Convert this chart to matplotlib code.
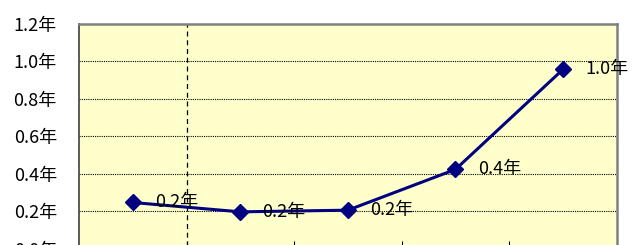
import matplotlib.pyplot as plt
import numpy as np

plt.rcParams['font.family'] = ['Noto Sans CJK JP', 'DejaVu Sans']

# data
categories = [1, 2, 3, 4, 5]
values = [0.246, 0.196, 0.205, 0.423, 0.958]
labels = ['0.2年', '0.2年', '0.2年', '0.4年', '1.0年']
yticks = [0.0, 0.2, 0.4, 0.6, 0.8, 1.0, 1.2]

fig = plt.figure(figsize=(6.32, 2.45), dpi=100)
ax = fig.add_axes([0.125, -0.0143, 0.851, 0.916])
ax.set_facecolor('#FFFFCC')

# horizontal dotted grid
for v in yticks[1:-1]:
    ax.axhline(v, color='black', lw=0.8, ls=(0, (1, 1)), zorder=1)

# dashed divider after the first category
ax.axvline(1.5, color='black', lw=0.9, ls=(0, (4, 3)), zorder=1)

ax.plot(categories, values, color='#000080', lw=2.2, marker='D',
        markersize=8.5, zorder=3)

for x, y, t in zip(categories, values, labels):
    ax.annotate(t, (x, y), xytext=(16, 0), textcoords='offset points',
                va='center', ha='left', fontsize=13, color='black')

ax.set_xlim(0.5, 5.5)
ax.set_ylim(0, 1.2)
ax.set_yticks(yticks)
ax.set_yticklabels([f'{v:.1f}年' for v in yticks], fontsize=13)
ax.tick_params(axis='y', length=0, pad=16)
ax.set_xticks([1.5, 2.5, 3.5, 4.5])
ax.set_xticklabels([])
ax.tick_params(axis='x', direction='in', length=6, width=0.8)

for side in ['top', 'right']:
    ax.spines[side].set_color('#808080')
    ax.spines[side].set_linewidth(1.8)
ax.spines['left'].set_color('#404040')
ax.spines['left'].set_linewidth(1.2)
ax.spines['bottom'].set_color('#404040')

fig.savefig('out.png', dpi=100)
